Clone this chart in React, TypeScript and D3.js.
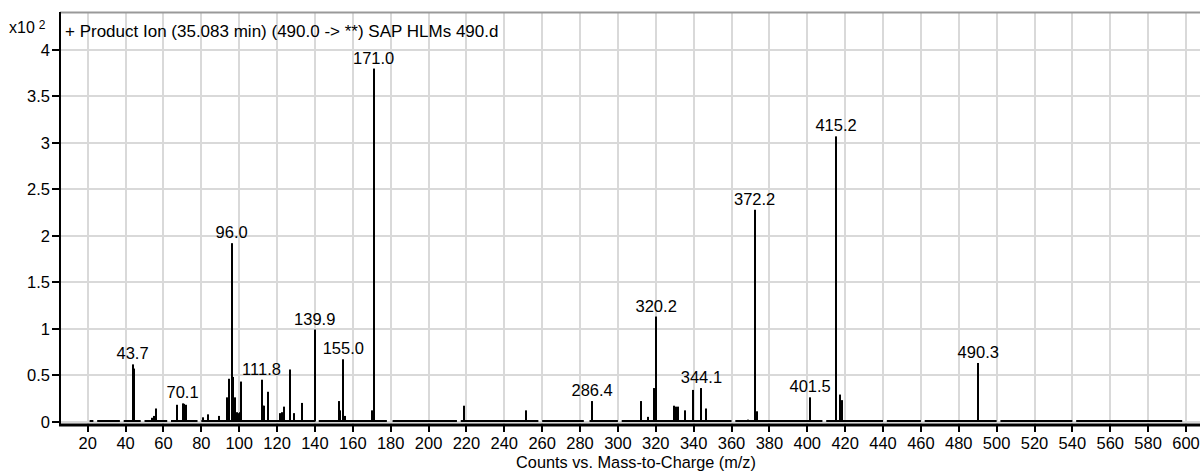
import * as d3 from "d3";

// intensities in units of x10^2 counts
const labelledMz = [43.7, 70.1, 96.0, 111.8, 139.9, 155.0, 171.0, 286.4, 320.2, 344.1, 372.2, 401.5, 415.2, 490.3];
const labelledInt = [0.615, 0.195, 1.92, 0.45, 0.99, 0.67, 3.8, 0.22, 1.13, 0.36, 2.28, 0.26, 3.07, 0.63];

const minorMz = [
  44.6, 54.1, 55.0, 56.2, 67.2, 71.0, 72.0, 81.1, 83.7, 89.5,
  93.4, 94.5, 96.9, 97.8, 99.0, 99.9, 100.5, 101.2, 112.4, 113.1,
  115.1, 121.6, 122.6, 123.7, 127.0, 128.8, 133.0, 152.8, 153.4, 155.9,
  170.3, 218.8, 251.5, 312.1, 316.0, 319.3, 329.7, 330.8, 331.5, 335.5,
  339.8, 346.5, 368.6, 373.2, 417.4, 418.3,
];
const minorInt = [
  0.57, 0.04, 0.06, 0.14, 0.18, 0.19, 0.18, 0.045, 0.077, 0.06,
  0.26, 0.46, 0.48, 0.26, 0.1, 0.09, 0.1, 0.43, 0.17, 0.17,
  0.32, 0.09, 0.1, 0.16, 0.56, 0.09, 0.2, 0.22, 0.12, 0.06,
  0.12, 0.17, 0.12, 0.22, 0.05, 0.36, 0.17, 0.16, 0.16, 0.12,
  0.34, 0.14, 0.02, 0.11, 0.29, 0.23,
];

// stretches of baseline noise (m/z from, to)
const noiseFrom = [21, 25, 39, 50, 64, 80, 142, 181, 217, 260, 285, 302, 362, 410, 442, 462, 502, 542];
const noiseTo = [23, 37, 48, 62, 78, 140, 178, 215, 258, 282, 300, 360, 408, 440, 460, 500, 540, 598];

const xTicks = d3.range(20, 601, 20);
const yTicks = d3.range(0, 4.01, 0.5);

const title = "+ Product Ion (35.083 min) (490.0 -> **) SAP HLMs 490.d";
const xTitle = "Counts vs. Mass-to-Charge (m/z)";

const W = 1200;
const H = 473;
const left = 60;
const top = 12;
const axisY = 425;
const font = "'Liberation Sans', Arial, sans-serif";

export default function App() {
  const x = d3.scaleLinear().domain([20, 600]).range([87.7, 1186]);
  const y = d3.scaleLinear().domain([0, 4]).range([421.5, 50]);

  const peaks = labelledMz.map((m, i) => ({ m, v: labelledInt[i] }))
    .concat(minorMz.map((m, i) => ({ m, v: minorInt[i] })));

  return (
    <div style={{ position: "fixed", left: 0, top: 0 }}>
      <svg width={W} height={H} style={{ display: "block", background: "#fff" }} fontFamily={font}>
        {/* grid */}
        <g stroke="#d9d9d9" strokeWidth={2}>
          {xTicks.map((t) => (
            <line key={`gx-${t}`} x1={Math.round(x(t))} x2={Math.round(x(t))} y1={top} y2={axisY} />
          ))}
          {yTicks.map((t) => (
            <line key={`gy-${t}`} x1={left} x2={W} y1={Math.round(y(t))} y2={Math.round(y(t))} />
          ))}
        </g>
        <line x1={left} x2={W} y1={top + 0.5} y2={top + 0.5} stroke="#999" strokeWidth={2} />

        {/* baseline noise */}
        <g stroke="#000" strokeWidth={2}>
          {noiseFrom.map((a, i) => (
            <line key={`n-${a}`} x1={x(a)} x2={x(noiseTo[i])} y1={421} y2={421} />
          ))}
        </g>

        {/* sticks */}
        <g fill="#000">
          {peaks.map((p) => (
            <rect
              key={`p-${p.m}`}
              x={Math.round(x(p.m)) - 1}
              width={2}
              y={y(p.v)}
              height={y(0) - y(p.v)}
            />
          ))}
        </g>

        {/* peak labels */}
        <g fontSize={16.5} textAnchor="middle" fill="#000">
          {labelledMz.map((m, i) => (
            <text key={`l-${m}`} x={x(m)} y={y(labelledInt[i]) - 5}>{m.toFixed(1)}</text>
          ))}
        </g>

        {/* axes */}
        <line x1={left} x2={left} y1={top} y2={axisY + 1} stroke="#000" strokeWidth={2} />
        <rect x={left - 1} y={axisY - 1.5} width={W - left + 1} height={3} fill="#000" />
        <g stroke="#000" strokeWidth={2}>
          {yTicks.map((t) => (
            <line key={`ty-${t}`} x1={left - 8} x2={left} y1={Math.round(y(t))} y2={Math.round(y(t))} />
          ))}
          {xTicks.map((t) => (
            <line key={`tx-${t}`} x1={Math.round(x(t))} x2={Math.round(x(t))} y1={axisY} y2={axisY + 7} />
          ))}
        </g>
        <g fontSize={16.5} fill="#000">
          {yTicks.map((t) => (
            <text key={`yl-${t}`} x={50} y={y(t)} textAnchor="end" dominantBaseline="central">
              {d3.format("~g")(t)}
            </text>
          ))}
          {xTicks.map((t) => (
            <text key={`xl-${t}`} x={x(t)} y={448.5} textAnchor="middle">{t}</text>
          ))}
        </g>

        {/* titles */}
        <text x={9} y={33} fontSize={16}>
          x10<tspan fontSize={12} dx={4} dy={-4}>2</tspan>
        </text>
        <text x={65} y={36.5} fontSize={17}>{title}</text>
        <text x={636} y={467.5} fontSize={16.3} textAnchor="middle">{xTitle}</text>
      </svg>
    </div>
  );
}
